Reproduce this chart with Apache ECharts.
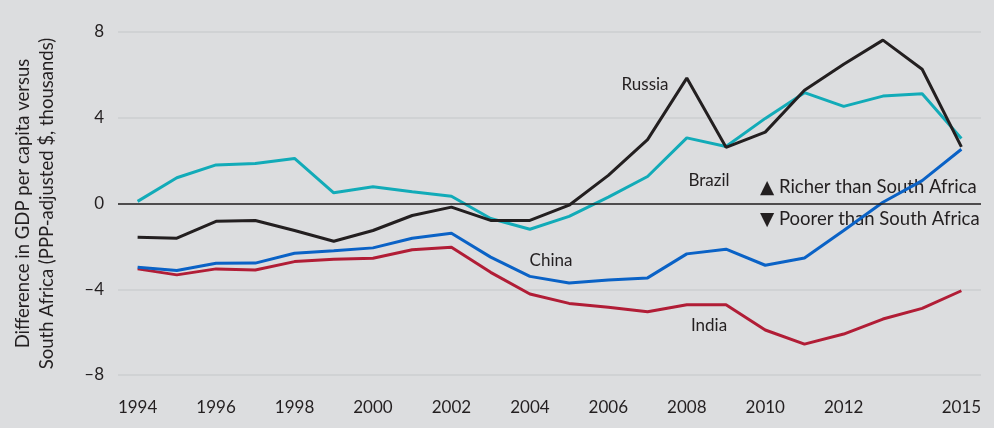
<!DOCTYPE html>
<html>
<head>
<meta charset="utf-8">
<script src="https://cdn.jsdelivr.net/npm/echarts@6/dist/echarts.min.js"></script>
<style>
html,body{margin:0;padding:0;background:#dcdddf;}
#chart{width:994px;height:428px;}
</style>
</head>
<body>
<div id="chart"></div>
<script>
var years = ['1994','1995','1996','1997','1998','1999','2000','2001','2002','2003','2004','2005','2006','2007','2008','2009','2010','2011','2012','2013','2014','2015'];
var shownYears = ['1994','1996','1998','2000','2002','2004','2006','2008','2010','2012','2015'];
var russia = [-1.57,-1.62,-0.83,-0.79,-1.26,-1.76,-1.26,-0.56,-0.17,-0.79,-0.79,-0.08,1.31,2.98,5.85,2.62,3.33,5.28,6.5,7.62,6.26,2.64];
var brazil = [0.1,1.2,1.8,1.87,2.1,0.5,0.78,0.55,0.34,-0.7,-1.2,-0.6,0.3,1.26,3.06,2.66,3.97,5.17,4.53,5.01,5.12,3.03];
var china = [-2.97,-3.13,-2.79,-2.78,-2.32,-2.2,-2.07,-1.62,-1.39,-2.5,-3.4,-3.71,-3.57,-3.47,-2.35,-2.13,-2.88,-2.54,-1.26,0.06,1.07,2.53];
var india = [-3.05,-3.33,-3.05,-3.1,-2.71,-2.6,-2.55,-2.16,-2.04,-3.21,-4.22,-4.66,-4.84,-5.05,-4.72,-4.72,-5.9,-6.56,-6.09,-5.39,-4.89,-4.07];
var yTicks = [-8,-4,0,4,8];

var FONT = 'Lato, "DejaVu Sans", sans-serif';
var chart = echarts.init(document.getElementById('chart'));
function line(name, data, color, z) {
  return {name: name, type: 'line', data: data, symbol: 'none', z: z,
    lineStyle: {color: color, width: 3}, itemStyle: {color: color}};
}
function label(x, y, s, size, align) {
  return {type: 'text', x: x, y: y, style: {text: s, fontFamily: FONT, fontSize: size || 17, fill: '#231f20', textAlign: align || 'center', textVerticalAlign: 'middle'}};
}
chart.setOption({
  backgroundColor: '#dcdddf',
  animation: false,
  grid: {left: 118, right: 13, top: 32, bottom: 53, outerBoundsMode: 'none', containLabel: false},
  xAxis: {
    type: 'category', data: years, boundaryGap: true,
    axisLine: {show: false}, axisTick: {show: false},
    axisLabel: {
      interval: function (i, v) { return shownYears.indexOf(v) >= 0; },
      color: '#231f20', fontFamily: FONT, fontSize: 17, margin: 24
    },
    splitLine: {show: false}
  },
  yAxis: {
    type: 'value', min: -8, max: 8, interval: 4,
    axisLine: {show: false}, axisTick: {show: false},
    axisLabel: {color: '#231f20', fontFamily: FONT, fontSize: 17, margin: 14,
      formatter: function (v) { return v < 0 ? '\u2013' + Math.abs(v) : String(v); }},
    splitLine: {lineStyle: {color: '#cdced0', width: 1.5}},
    name: 'Difference in GDP per capita versus\nSouth Africa (PPP-adjusted $, thousands)',
    nameLocation: 'middle', nameGap: 59, nameRotate: 90,
    nameTextStyle: {color: '#231f20', fontFamily: FONT, fontSize: 18.5, lineHeight: 24}
  },
  series: [
    line('Brazil', brazil, '#12abb8', 3),
    line('India', india, '#b11d36', 3),
    line('China', china, '#0a62c6', 4),
    line('Russia', russia, '#231f20', 5),
    {type: 'line', data: [], markLine: {silent: true, symbol: 'none', label: {show: false},
      lineStyle: {color: '#231f20', width: 1.5, type: 'solid'}, data: [{yAxis: 0}]}, z: 2}
  ],
  graphic: [
    label(645, 85, 'Russia'),
    label(709, 181, 'Brazil'),
    label(551, 261, 'China'),
    label(709, 326, 'India'),
    label(760, 187, '\u25B2 Richer than South Africa', 18.5, 'left'),
    label(760, 219, '\u25BC Poorer than South Africa', 18.5, 'left')
  ]
});
</script>
</body>
</html>
